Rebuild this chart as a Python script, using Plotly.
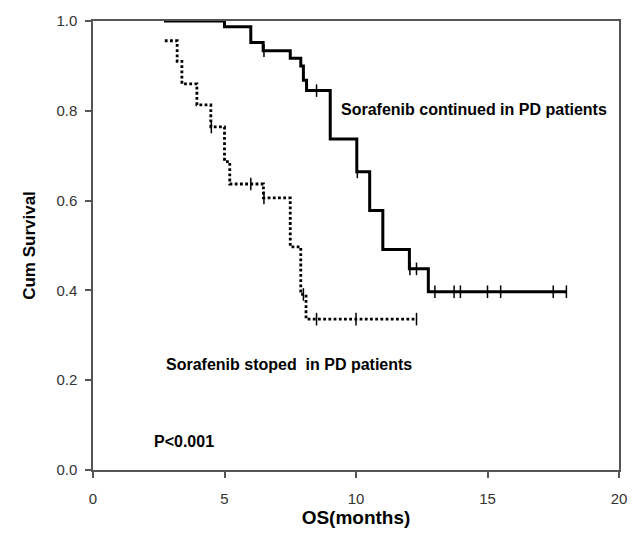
import numpy as np
import plotly.graph_objects as go

# Sorafenib continued in PD patients (solid)
cont_time = [2.7, 5.0, 6.0, 6.47, 7.5, 7.9, 8.0, 8.12, 9.02, 10.03, 10.52, 11.02, 12.03, 12.75, 18.0]
cont_surv = [1.0, 0.987, 0.952, 0.934, 0.917, 0.900, 0.868, 0.845, 0.737, 0.664, 0.578, 0.491, 0.448, 0.397, 0.397]
cont_cens = [6.5, 8.5, 10.05, 12.05, 12.3, 13.0, 13.73, 13.97, 15.0, 15.5, 17.5, 18.0]

# Sorafenib stopped in PD patients (dotted)
stop_time = [2.73, 3.2, 3.38, 3.95, 4.48, 5.0, 5.2, 6.48, 7.5, 7.9, 8.1, 12.3]
stop_surv = [0.956, 0.910, 0.860, 0.813, 0.764, 0.687, 0.637, 0.606, 0.497, 0.391, 0.336, 0.336]
stop_cens = [4.5, 6.0, 6.5, 8.0, 8.5, 10.0, 12.3]

x_ticks = [0, 5, 10, 15, 20]
y_ticks = [0.0, 0.2, 0.4, 0.6, 0.8, 1.0]

FONT = "Arial, Liberation Sans, sans-serif"


def surv_at(times, survs, t):
    idx = np.searchsorted(np.array(times), np.array(t), side="right") - 1
    return [survs[max(i, 0)] for i in idx]


fig = go.Figure()

fig.add_trace(go.Scatter(x=cont_time, y=cont_surv, mode="lines", line_shape="hv",
                         line=dict(color="black", width=3), showlegend=False))
fig.add_trace(go.Scatter(x=cont_cens, y=surv_at(cont_time, cont_surv, cont_cens), mode="markers",
                         marker=dict(symbol="line-ns", size=9, line=dict(color="black", width=1.5)),
                         showlegend=False))
fig.add_trace(go.Scatter(x=stop_time, y=stop_surv, mode="lines", line_shape="hv",
                         line=dict(color="black", width=2.8, dash="2.8px,2.4px"), showlegend=False))
fig.add_trace(go.Scatter(x=stop_cens, y=surv_at(stop_time, stop_surv, stop_cens), mode="markers",
                         marker=dict(symbol="line-ns", size=9, line=dict(color="black", width=1.5)),
                         showlegend=False))

font_b = dict(family=FONT, size=16, color="black")
fig.add_annotation(x=9.36, y=0.802, text="<b>Sorafenib continued in PD patients</b>", showarrow=False,
                   xanchor="left", yanchor="middle", font=font_b)
fig.add_annotation(x=2.7, y=0.235, text="<b>Sorafenib stoped  in PD patients</b>", showarrow=False,
                   xanchor="left", yanchor="middle", font=font_b)
fig.add_annotation(x=2.25, y=0.064, text="<b>P&lt;0.001</b>", showarrow=False,
                   xanchor="left", yanchor="middle", font=font_b)

axis_common = dict(showgrid=False, zeroline=False, showline=True, linecolor="#555555", linewidth=1.5,
                   mirror=True, ticks="outside", ticklen=6, tickwidth=1.5, tickcolor="#555555",
                   tickfont=dict(family=FONT, size=15, color="#333333"))

fig.update_xaxes(range=[0, 20], tickvals=x_ticks, ticktext=[str(v) for v in x_ticks],
                 ticklabelstandoff=8,
                 title=dict(text="<b>OS(months)</b>", standoff=5,
                            font=dict(family=FONT, size=19, color="black")),
                 **axis_common)
fig.update_yaxes(range=[0, 1], tickvals=y_ticks, ticktext=[f"{v:.1f}" for v in y_ticks],
                 ticklabelstandoff=5,
                 title=dict(text="<b>Cum Survival</b>", standoff=16,
                            font=dict(family=FONT, size=17, color="black")),
                 **axis_common)

fig.update_layout(width=635, height=533, margin=dict(l=93, r=8, t=21, b=62),
                  plot_bgcolor="white", paper_bgcolor="white")

fig.write_html("out.html")
